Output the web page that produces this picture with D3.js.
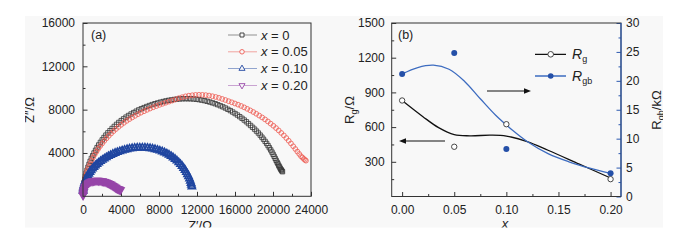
<!DOCTYPE html>
<html>
<head>
<meta charset="utf-8">
<script src="https://cdn.jsdelivr.net/npm/d3@7"></script>
<style>
  body { margin: 0; background: #fff; }
  text { font-family: "Liberation Sans", Arial, sans-serif; fill: #222; }
</style>
</head>
<body>
<script>
/**
 * Data
 */

// (a) Nyquist plots, [Z', Z''] in ohm
const nyq0 = [[30,600],[40,800],[75,1050],[120,1300],[180,1580],[250,1850],[330,2130],[420,2400],[520,2680],[630,2950],[750,3230],[880,3500],[1020,3750],[1160,4000],[1320,4250],[1480,4500],[1650,4740],[1830,4980],[2020,5210],[2210,5430],[2410,5650],[2620,5860],[2840,6060],[3060,6260],[3290,6450],[3530,6640],[3770,6820],[4020,6990],[4270,7150],[4530,7310],[4790,7460],[5060,7600],[5330,7730],[5600,7860],[5870,7980],[6150,8090],[6430,8190],[6710,8290],[6990,8380],[7280,8470],[7570,8550],[7860,8620],[8150,8690],[8440,8750],[8730,8810],[9020,8860],[9310,8900],[9600,8940],[9890,8970],[10180,8990],[10470,9005],[10760,9010],[11050,9008],[11340,9000],[11630,8985],[11920,8960],[12210,8925],[12500,8880],[12790,8830],[13070,8770],[13350,8700],[13630,8630],[13910,8550],[14180,8460],[14450,8360],[14720,8260],[14990,8150],[15250,8030],[15510,7910],[15760,7780],[16010,7640],[16260,7500],[16500,7350],[16740,7200],[16970,7040],[17200,6880],[17420,6710],[17640,6540],[17850,6370],[18060,6200],[18260,6020],[18460,5840],[18650,5650],[18830,5460],[19000,5270],[19170,5070],[19330,4880],[19480,4680],[19620,4480],[19760,4280],[19890,4080],[20010,3880],[20120,3690],[20230,3500],[20330,3320],[20430,3150],[20520,3000],[20600,2850],[20680,2720],[20750,2600],[20820,2500],[20880,2420],[20940,2340],[21000,2270]]
const nyq05 = [[20,700],[30,900],[70,1150],[140,1400],[210,1680],[300,1950],[400,2230],[510,2500],[630,2780],[770,3050],[910,3320],[1070,3600],[1240,3870],[1420,4130],[1610,4390],[1810,4640],[2020,4880],[2240,5120],[2470,5350],[2710,5580],[2960,5800],[3210,6010],[3470,6210],[3740,6410],[4020,6600],[4300,6780],[4590,6960],[4880,7120],[5180,7280],[5480,7430],[5790,7580],[6100,7720],[6420,7850],[6740,7980],[7060,8100],[7390,8220],[7720,8330],[8050,8440],[8380,8540],[8720,8640],[9060,8740],[9400,8840],[9740,8950],[10090,9060],[10440,9150],[10790,9230],[11140,9290],[11500,9330],[11850,9360],[12210,9370],[12560,9365],[12920,9340],[13270,9300],[13620,9240],[13970,9170],[14310,9090],[14650,8990],[14990,8890],[15330,8780],[15660,8680],[15990,8570],[16320,8460],[16650,8340],[16970,8210],[17290,8070],[17610,7930],[17930,7780],[18240,7620],[18550,7450],[18860,7280],[19160,7100],[19460,6910],[19750,6710],[20040,6510],[20320,6300],[20600,6080],[20870,5850],[21140,5620],[21400,5380],[21650,5130],[21890,4880],[22130,4620],[22350,4370],[22560,4130],[22760,3910],[22950,3700],[23110,3570],[23250,3450],[23370,3360],[23470,3290]]
const nyq10 = [[10,500],[20,700],[55,880],[100,1050],[160,1230],[230,1400],[310,1580],[400,1750],[500,1920],[610,2080],[730,2240],[860,2400],[1000,2550],[1150,2700],[1310,2840],[1480,2980],[1660,3110],[1850,3240],[2050,3360],[2250,3480],[2460,3590],[2680,3700],[2910,3800],[3140,3900],[3380,3990],[3620,4070],[3870,4150],[4120,4220],[4380,4280],[4640,4340],[4900,4390],[5170,4430],[5440,4460],[5710,4480],[5980,4490],[6250,4490],[6520,4480],[6790,4460],[7060,4430],[7320,4390],[7580,4340],[7840,4280],[8090,4210],[8340,4130],[8580,4040],[8820,3940],[9050,3830],[9270,3710],[9480,3580],[9690,3440],[9890,3290],[10080,3130],[10260,2960],[10430,2790],[10590,2610],[10740,2420],[10880,2230],[11000,2030],[11110,1830],[11210,1620],[11300,1420],[11370,1220],[11420,1050],[11460,890]]
const nyq20 = [[5,80],[10,150],[30,300],[60,450],[105,600],[160,750],[230,880],[310,1000],[400,1100],[500,1190],[605,1260],[720,1320],[840,1365],[970,1400],[1100,1425],[1230,1440],[1365,1448],[1500,1450],[1635,1447],[1770,1440],[1905,1422],[2040,1400],[2170,1372],[2300,1340],[2430,1302],[2560,1260],[2680,1212],[2800,1160],[2920,1102],[3030,1040],[3140,980],[3240,920],[3340,860],[3440,800],[3530,750],[3620,700],[3710,668],[3800,640],[3880,610],[3950,580]]

const seriesLabels = ["0", "0.05", "0.10", "0.20"]
const zxTicks = [0, 4000, 8000, 12000, 16000, 20000, 24000]
const zyTicks = [4000, 8000, 12000, 16000]

// (b) resistances vs x
const xVals = [0, 0.05, 0.10, 0.20]
const rg = [830, 430, 625, 150]          // ohm
const rgb = [21.2, 24.8, 8.2, 4.0]       // kohm
const fitX_g = [0, 0.02, 0.035, 0.05, 0.065, 0.085, 0.1, 0.12, 0.14, 0.17, 0.2]
const fitRg = [830, 690, 595, 535, 525, 530, 522, 475, 400, 280, 160]
const fitX_gb = [0, 0.015, 0.03, 0.045, 0.06, 0.075, 0.09, 0.105, 0.12, 0.14, 0.16, 0.18, 0.2]
const fitRgb = [21.2, 22.3, 22.7, 22.0, 19.9, 16.9, 14.0, 11.6, 9.5, 7.4, 6.0, 4.9, 4.0]
const bxTicks = [0, 0.05, 0.10, 0.15, 0.20]
const rgTicks = [300, 600, 900, 1200, 1500]
const rgbTicks = [0, 5, 10, 15, 20, 25, 30]

/**
 * Sizes
 */
const W = 690, H = 244
const pa = { left: 83, right: 311, top: 23, bottom: 196.3 }
const pb = { left: 391.7, right: 621, top: 23, bottom: 196.5 }

const colors = ["#333333", "#ee5a52", "#2046a0", "#9645a8"]
const blue = "#2c5ab0"

const svg = d3.select("body").append("svg")
    .attr("width", W)
    .attr("height", H)

svg.append("defs").append("clipPath").attr("id", "frame")
    .append("rect").attr("x", 25).attr("y", 16).attr("width", 638).attr("height", 211.5)

svg.append("rect")
    .attr("x", 25).attr("y", 16).attr("width", 638).attr("height", 211.5)
    .attr("fill", "#f8f8f8")

const root = svg.append("g").attr("clip-path", "url(#frame)")

function styleAxis(g, col) {
    g.select(".domain").remove()
    g.selectAll("line").attr("stroke", col || "#333")
    g.selectAll("text").style("font-size", "12px").attr("fill", "#222")
}

/**
 * Panel (a)
 */
const xa = d3.scaleLinear().domain([0, 24000]).range([pa.left, pa.right])
const ya = d3.scaleLinear().domain([0, 16000]).range([pa.bottom, pa.top])

const ga = root.append("g")

ga.append("g")
    .attr("transform", `translate(0,${pa.bottom})`)
    .call(d3.axisBottom(xa).tickValues(d3.range(2000, 24000, 4000)).tickSize(-2.5).tickFormat(""))
    .call(styleAxis)
ga.append("g")
    .attr("transform", `translate(0,${pa.bottom})`)
    .call(d3.axisBottom(xa).tickValues(zxTicks).tickSize(-4.5).tickPadding(9).tickFormat(d3.format("d")))
    .call(styleAxis)
ga.append("g")
    .attr("transform", `translate(${pa.left},0)`)
    .call(d3.axisLeft(ya).tickValues(d3.range(2000, 16000, 4000)).tickSize(-2.5).tickFormat(""))
    .call(styleAxis)
ga.append("g")
    .attr("transform", `translate(${pa.left},0)`)
    .call(d3.axisLeft(ya).tickValues(zyTicks).tickSize(-4.5).tickPadding(8).tickFormat(d3.format("d")))
    .call(styleAxis)

const shapes = [
    { type: d3.symbolSquare, size: 19, rot: 0 },
    { type: d3.symbolCircle, size: 18, rot: 0 },
    { type: d3.symbolTriangle, size: 22, rot: 0 },
    { type: d3.symbolTriangle, size: 20, rot: 180 }
]

const nyq = [nyq0, nyq05, nyq10, nyq20]
nyq.forEach((s, i) => {
    const sym = d3.symbol().type(shapes[i].type).size(shapes[i].size)
    ga.append("g")
        .selectAll("path")
        .data(s)
        .enter()
        .append("path")
            .attr("d", sym)
            .attr("transform", d => `translate(${xa(d[0])},${ya(d[1])}) rotate(${shapes[i].rot})`)
            .attr("fill", "none")
            .attr("stroke", colors[i])
            .attr("stroke-width", i >= 2 ? 1.6 : 0.8)
})

ga.append("rect")
    .attr("x", pa.left).attr("y", pa.top)
    .attr("width", pa.right - pa.left).attr("height", pa.bottom - pa.top)
    .attr("fill", "none").attr("stroke", "#333").attr("stroke-width", 1)

ga.append("text").attr("x", 91).attr("y", 39).style("font-size", "12.5px").text("(a)")

// legend (a)
seriesLabels.forEach((lab, i) => {
    const y = 35 + i * 16.8
    const sym = d3.symbol().type(shapes[i].type).size(16)
    ga.append("line").attr("x1", 228).attr("x2", 257).attr("y1", y).attr("y2", y)
        .attr("stroke", colors[i]).attr("stroke-width", 0.7).attr("opacity", 0.75)
    ga.append("path").attr("d", sym)
        .attr("transform", `translate(242,${y}) rotate(${shapes[i].rot})`)
        .attr("fill", "#f8f8f8").attr("stroke", colors[i]).attr("stroke-width", 0.9)
    const t = ga.append("text").attr("x", 261).attr("y", y + 4.5).style("font-size", "13px")
    t.append("tspan").style("font-style", "italic").text("x")
    t.append("tspan").text(" = " + lab)
})

ga.append("text")
    .attr("transform", `translate(34,110) rotate(-90)`)
    .attr("text-anchor", "middle").style("font-size", "13px")
    .text("Z\u2033/\u03A9")
ga.append("text")
    .attr("x", 200).attr("y", 230).attr("text-anchor", "middle").style("font-size", "13px")
    .text("Z\u2032/\u03A9")

/**
 * Panel (b)
 */
const xb = d3.scaleLinear().domain([-0.01, 0.21]).range([pb.left, pb.right])
const yl = d3.scaleLinear().domain([0, 1500]).range([pb.bottom, pb.top])
const yr = d3.scaleLinear().domain([0, 30]).range([pb.bottom, pb.top])

const gb = root.append("g")

gb.append("g")
    .attr("transform", `translate(0,${pb.bottom})`)
    .call(d3.axisBottom(xb).tickValues(d3.range(0.025, 0.2, 0.05)).tickSize(-2.5).tickFormat(""))
    .call(styleAxis)
gb.append("g")
    .attr("transform", `translate(0,${pb.bottom})`)
    .call(d3.axisBottom(xb).tickValues(bxTicks).tickSize(-4.5).tickPadding(9).tickFormat(d3.format(".2f")))
    .call(styleAxis)
gb.append("g")
    .attr("transform", `translate(${pb.left},0)`)
    .call(d3.axisLeft(yl).tickValues(d3.range(150, 1500, 300)).tickSize(-2.5).tickFormat(""))
    .call(styleAxis)
gb.append("g")
    .attr("transform", `translate(${pb.left},0)`)
    .call(d3.axisLeft(yl).tickValues(rgTicks).tickSize(-4.5).tickPadding(7).tickFormat(d3.format("d")))
    .call(styleAxis)
gb.append("g")
    .attr("transform", `translate(${pb.right},0)`)
    .call(d3.axisRight(yr).tickValues(d3.range(2.5, 30, 5)).tickSize(-2.5).tickFormat(""))
    .call(g => styleAxis(g, blue))
gb.append("g")
    .attr("transform", `translate(${pb.right},0)`)
    .call(d3.axisRight(yr).tickValues(rgbTicks).tickSize(-4.5).tickPadding(5).tickFormat(d3.format("d")))
    .call(g => styleAxis(g, blue))

gb.append("rect")
    .attr("x", pb.left).attr("y", pb.top)
    .attr("width", pb.right - pb.left).attr("height", pb.bottom - pb.top)
    .attr("fill", "none").attr("stroke", "#333").attr("stroke-width", 1)
gb.append("line")
    .attr("x1", pb.right).attr("x2", pb.right).attr("y1", pb.top).attr("y2", pb.bottom)
    .attr("stroke", blue).attr("stroke-width", 1.2)

// fitted curves
gb.append("path")
    .datum(fitX_g.map((x, i) => [x, fitRg[i]]))
    .attr("d", d3.line().x(d => xb(d[0])).y(d => yl(d[1])).curve(d3.curveCatmullRom))
    .attr("fill", "none").attr("stroke", "#111").attr("stroke-width", 1.3)
gb.append("path")
    .datum(fitX_gb.map((x, i) => [x, fitRgb[i]]))
    .attr("d", d3.line().x(d => xb(d[0])).y(d => yr(d[1])).curve(d3.curveCatmullRom))
    .attr("fill", "none").attr("stroke", "#3d6cc0").attr("stroke-width", 1.3)

// points
gb.append("g").selectAll("circle")
    .data(xVals.map((x, i) => [x, rg[i]]))
    .enter().append("circle")
        .attr("cx", d => xb(d[0])).attr("cy", d => yl(d[1])).attr("r", 2.7)
        .attr("fill", "#fff").attr("stroke", "#333").attr("stroke-width", 0.9)
gb.append("g").selectAll("circle")
    .data(xVals.map((x, i) => [x, rgb[i]]))
    .enter().append("circle")
        .attr("cx", d => xb(d[0])).attr("cy", d => yr(d[1])).attr("r", 3)
        .attr("fill", "#2550a8")

// arrows
const arrowHead = (x, y, dir) => `M${x},${y} L${x - dir * 7},${y - 2.8} L${x - dir * 7},${y + 2.8} Z`
gb.append("line").attr("x1", 487).attr("x2", 524).attr("y1", 91).attr("y2", 91)
    .attr("stroke", "#111").attr("stroke-width", 1.2)
gb.append("path").attr("d", arrowHead(531, 91, 1)).attr("fill", "#111")
gb.append("line").attr("x1", 445).attr("x2", 406).attr("y1", 141).attr("y2", 141)
    .attr("stroke", "#111").attr("stroke-width", 1.2)
gb.append("path").attr("d", arrowHead(399, 141, -1)).attr("fill", "#111")

gb.append("text").attr("x", 398).attr("y", 39).style("font-size", "12.5px").text("(b)")

// legend (b)
const legB = [
    { y: 54.3, stroke: "#111", fill: "#fff", sub: "g" },
    { y: 76, stroke: "#3d6cc0", fill: "#2550a8", sub: "gb" }
]
legB.forEach(l => {
    gb.append("line").attr("x1", 535).attr("x2", 566).attr("y1", l.y).attr("y2", l.y)
        .attr("stroke", l.stroke).attr("stroke-width", 1.3)
    gb.append("circle").attr("cx", 550.7).attr("cy", l.y).attr("r", 2.8)
        .attr("fill", l.fill).attr("stroke", l.fill === "#fff" ? "#333" : "none").attr("stroke-width", 0.9)
    const t = gb.append("text").attr("x", 572).attr("y", l.y + 5).style("font-size", "14px")
    t.append("tspan").style("font-style", "italic").text("R")
    t.append("tspan").attr("dy", 3).style("font-size", "9px").text(l.sub)
})

// axis titles (b)
const tl = gb.append("text")
    .attr("transform", `translate(354,110) rotate(-90)`)
    .attr("text-anchor", "middle").style("font-size", "13px")
tl.append("tspan").text("R")
tl.append("tspan").attr("dy", 3).style("font-size", "9px").text("g")
tl.append("tspan").attr("dy", -3).text("/\u03A9")

const tr = gb.append("text")
    .attr("transform", `translate(661,110) rotate(-90)`)
    .attr("text-anchor", "middle").style("font-size", "13px")
tr.append("tspan").text("R")
tr.append("tspan").attr("dy", 3).style("font-size", "9px").text("gb")
tr.append("tspan").attr("dy", -3).text("/k\u03A9")

gb.append("text")
    .attr("x", 505).attr("y", 228).attr("text-anchor", "middle")
    .style("font-size", "13px").style("font-style", "italic")
    .text("x")
</script>
</body>
</html>
